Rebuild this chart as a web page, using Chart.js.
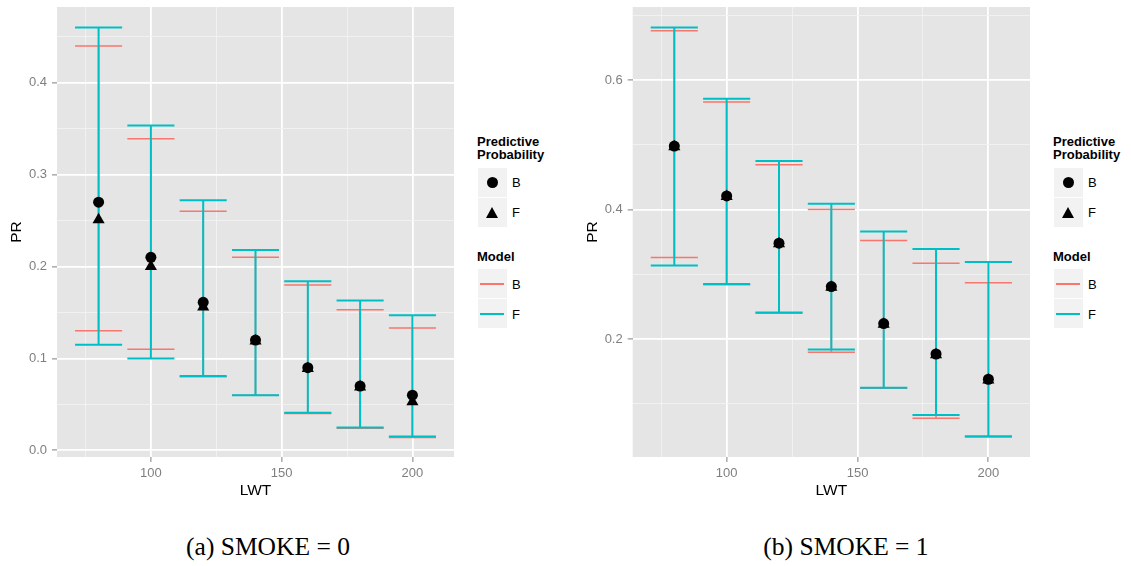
<!DOCTYPE html>
<html>
<head>
<meta charset="utf-8">
<script src="https://cdn.jsdelivr.net/npm/chart.js@4.4.1/dist/chart.umd.min.js"></script>
<style>
body { margin: 0; background: #fff; width: 1131px; height: 566px; position: relative; overflow: hidden; font-family: 'Liberation Sans', Arial, sans-serif; }
canvas { position: absolute; top: 0; }
.ltitle { position: absolute; font-weight: bold; font-size: 13px; line-height: 13.3px; color: #000; white-space: nowrap; }
.key { position: absolute; width: 29px; height: 29px; background: #f2f2f2; }
.klab { position: absolute; font-size: 13px; line-height: 15px; color: #000; }
.caption { position: absolute; width: 400px; text-align: center; font-family: 'Liberation Serif', 'Times New Roman', serif; font-size: 25.5px; line-height: 30px; color: #000; }
</style>
</head>
<body>
<canvas id="smoke0" width="470" height="505" style="left:0px"></canvas>
<canvas id="smoke1" width="480" height="505" style="left:565px"></canvas>
<div id="legends"></div>
<div class="caption" style="left:68px; top:532px">(a) SMOKE = 0</div>
<div class="caption" style="left:646px; top:532px">(b) SMOKE = 1</div>
<script>
// LWT values where the predictions were made
const lwt = [80, 100, 120, 140, 160, 180, 200];
const capHalf = 9;

// SMOKE = 0
const probB0 = [0.270, 0.210, 0.161, 0.120, 0.090, 0.070, 0.060];
const probF0 = [0.251, 0.200, 0.156, 0.119, 0.089, 0.069, 0.053];
const lowB0 = [0.130, 0.110, 0.080, 0.060, 0.040, 0.024, 0.014];
const upB0 = [0.440, 0.339, 0.260, 0.210, 0.180, 0.153, 0.133];
const lowF0 = [0.115, 0.100, 0.081, 0.060, 0.041, 0.025, 0.015];
const upF0 = [0.460, 0.3535, 0.272, 0.218, 0.184, 0.163, 0.147];

// SMOKE = 1
const probB1 = [0.498, 0.421, 0.348, 0.281, 0.224, 0.177, 0.138];
const probF1 = [0.497, 0.420, 0.347, 0.280, 0.223, 0.176, 0.137];
const lowB1 = [0.326, 0.284, 0.240, 0.1796, 0.124, 0.078, 0.049];
const upB1 = [0.676, 0.566, 0.469, 0.400, 0.352, 0.317, 0.287];
const lowF1 = [0.3135, 0.285, 0.241, 0.184, 0.125, 0.083, 0.050];
const upF1 = [0.681, 0.571, 0.475, 0.409, 0.366, 0.339, 0.319];

// axes
const xRange = [64.1, 215.9];
const xMajor = [100, 150, 200];
const xMinor = [75, 125, 175];
const yRange0 = [-0.0072, 0.4823];
const yMajor0 = [0.0, 0.1, 0.2, 0.3, 0.4];
const yMinor0 = [0.05, 0.15, 0.25, 0.35, 0.45];
const yRange1 = [0.018, 0.7126];
const yMajor1 = [0.2, 0.4, 0.6];
const yMinor1 = [0.1, 0.3, 0.5, 0.7];

const RED = '#F8766D', TEAL = '#00BFC4';

Chart.defaults.font.family = "'Liberation Sans', Arial, sans-serif";
Chart.defaults.animation = false;

// errorbar as one broken line: top cap, stem, bottom cap
function errorbarPath(lo, hi) {
    let pts = [];
    lwt.forEach((x, i) => {
        pts.push({ x: x - capHalf, y: hi[i] }, { x: x + capHalf, y: hi[i] }, { x: x, y: null });
        pts.push({ x: x, y: hi[i] }, { x: x, y: lo[i] }, { x: x, y: null });
        pts.push({ x: x - capHalf, y: lo[i] }, { x: x + capHalf, y: lo[i] }, { x: x, y: null });
    });
    return pts;
}

const panelBg = {
    id: 'panelBg',
    beforeDraw(chart) {
        const { ctx, chartArea: a } = chart;
        ctx.save();
        ctx.fillStyle = '#e5e5e5';
        ctx.fillRect(a.left, a.top, a.right - a.left, a.bottom - a.top);
        ctx.restore();
    }
};

function gridOpts(major) {
    const isMajor = (c) => c.tick && major.includes(c.tick.value);
    return {
        color: (c) => isMajor(c) ? '#ffffff' : '#f2f2f2',
        lineWidth: (c) => isMajor(c) ? 1.8 : 0.9,
        tickColor: (c) => isMajor(c) ? '#7f7f7f' : 'rgba(0,0,0,0)',
        tickLength: 5,
        tickWidth: 1
    };
}

function fitScale(size, horizontal) {
    return (s) => {
        if (horizontal) s.height = size; else s.width = size;
        s.paddingTop = 0; s.paddingBottom = 0; s.paddingLeft = 0; s.paddingRight = 0;
    };
}

function makePanel(id, d) {
    new Chart(document.getElementById(id), {
        type: 'scatter',
        data: {
            datasets: [
                { label: 'PB', data: lwt.map((x, i) => ({ x: x, y: d.probB[i] })), pointStyle: 'circle', pointRadius: 5.5, pointBackgroundColor: '#000', pointBorderWidth: 0, order: 0 },
                { label: 'PF', data: lwt.map((x, i) => ({ x: x, y: d.probF[i] })), pointStyle: 'triangle', pointRadius: 7, pointBackgroundColor: '#000', pointBorderWidth: 0, order: 1 },
                { label: 'MF', data: errorbarPath(d.lowF, d.upF), showLine: true, spanGaps: false, borderColor: TEAL, borderWidth: 2, pointRadius: 0, order: 2 },
                { label: 'MB', data: errorbarPath(d.lowB, d.upB), showLine: true, spanGaps: false, borderColor: RED, borderWidth: 1.5, pointRadius: 0, order: 3 }
            ]
        },
        options: {
            responsive: false,
            devicePixelRatio: 1,
            events: [],
            layout: { padding: { left: 0, top: 6, right: d.padRight, bottom: 0 } },
            plugins: { legend: { display: false }, tooltip: { enabled: false } },
            scales: {
                x: {
                    type: 'linear', min: xRange[0], max: xRange[1],
                    afterBuildTicks: (s) => { s.ticks = xMinor.concat(xMajor).sort((a, b) => a - b).map(v => ({ value: v })); },
                    afterFit: fitScale(48, true),
                    ticks: { autoSkip: false, maxRotation: 0, padding: 4, color: '#7f7f7f', font: { size: 13 },
                        callback: (v) => xMajor.includes(v) ? String(v) : '' },
                    grid: gridOpts(xMajor),
                    border: { display: false },
                    title: { display: true, text: 'LWT', color: '#000', font: { size: 15.5 }, padding: { top: 0, bottom: 4.7 } }
                },
                y: {
                    type: 'linear', min: d.yRange[0], max: d.yRange[1],
                    afterBuildTicks: (s) => { s.ticks = d.yMinor.concat(d.yMajor).sort((a, b) => a - b).map(v => ({ value: v })); },
                    afterFit: fitScale(d.yWidth, false),
                    ticks: { autoSkip: false, padding: 5, color: '#7f7f7f', font: { size: 13 },
                        callback: (v) => d.yMajor.includes(v) ? v.toFixed(1) : '' },
                    grid: gridOpts(d.yMajor),
                    border: { display: false },
                    title: { display: true, text: 'PR', color: '#000', font: { size: 15.5 }, padding: { top: d.titlePad, bottom: 0 } }
                }
            }
        },
        plugins: [panelBg]
    });
}

makePanel('smoke0', { probB: probB0, probF: probF0, lowB: lowB0, upB: upB0, lowF: lowF0, upF: upF0,
    yRange: yRange0, yMajor: yMajor0, yMinor: yMinor0, yWidth: 57, titlePad: 7.7, padRight: 16 });
makePanel('smoke1', { probB: probB1, probF: probF1, lowB: lowB1, upB: upB1, lowF: lowF1, upF: upF1,
    yRange: yRange1, yMajor: yMajor1, yMinor: yMinor1, yWidth: 67.7, titlePad: 18.7, padRight: 15 });

// ggplot style legends, one for each panel
function makeLegend(L) {
    const host = document.getElementById('legends');
    const add = (html) => host.insertAdjacentHTML('beforeend', html);
    add(`<div class="ltitle" style="left:${L}px; top:135px">Predictive<br>Probability</div>`);
    add(`<div class="key" style="left:${L + 1}px; top:168px"><div style="position:absolute;left:9px;top:9px;width:11px;height:11px;border-radius:50%;background:#000"></div></div>`);
    add(`<div class="key" style="left:${L + 1}px; top:198px"><div style="position:absolute;left:8px;top:9px;width:0;height:0;border-left:6.5px solid transparent;border-right:6.5px solid transparent;border-bottom:11px solid #000"></div></div>`);
    add(`<div class="klab" style="left:${L + 35}px; top:175px">B</div>`);
    add(`<div class="klab" style="left:${L + 35}px; top:205px">F</div>`);
    add(`<div class="ltitle" style="left:${L}px; top:250px">Model</div>`);
    add(`<div class="key" style="left:${L + 1}px; top:269px"><div style="position:absolute;left:2px;top:14px;width:24px;height:1.6px;background:${RED}"></div></div>`);
    add(`<div class="key" style="left:${L + 1}px; top:299px"><div style="position:absolute;left:2px;top:14px;width:24px;height:1.6px;background:${TEAL}"></div></div>`);
    add(`<div class="klab" style="left:${L + 35}px; top:277px">B</div>`);
    add(`<div class="klab" style="left:${L + 35}px; top:307px">F</div>`);
}
makeLegend(477);
makeLegend(1053);
</script>
</body>
</html>
